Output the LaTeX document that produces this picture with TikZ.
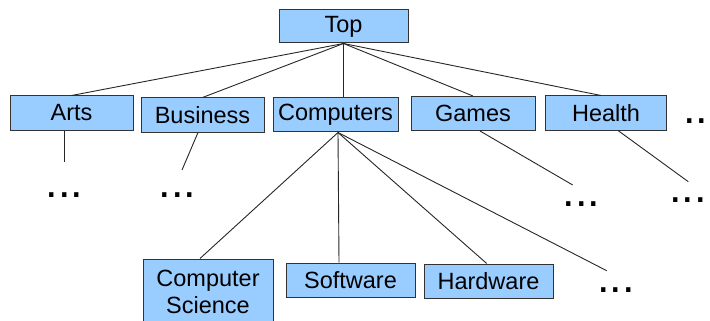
\documentclass[tikz,border=0pt]{standalone}
\usepackage{fontspec}
\setmainfont{Liberation Sans}
\definecolor{boxfill}{HTML}{99CCFF}
\definecolor{boxline}{HTML}{333333}
\begin{document}
\begin{tikzpicture}[x=1pt,y=-1pt,
  catbox/.style={draw=boxline,fill=boxfill,line width=1pt,inner sep=0pt,
    font=\fontsize{23.5}{27}\selectfont,align=center},
  dots/.style={inner sep=0pt,anchor=base,font=\fontsize{45}{45}\selectfont},
  edge/.style={draw=black!85,line width=0.9pt}]
\useasboundingbox (0,0) rectangle (710,321);
% boxes
\node[catbox,minimum width=129pt,minimum height=33pt] (top) at (343.5,26.5) {Top};
\node[catbox,minimum width=123pt,minimum height=34pt] (arts) at (71.5,113) {Arts};
\node[catbox,minimum width=123pt,minimum height=34pt] (bus) at (202.5,115) {Business};
\node[catbox,minimum width=125pt,minimum height=33pt] (comp) at (335.5,114.5) {Computers};
\node[catbox,minimum width=124pt,minimum height=34pt] (games) at (473,113.5) {Games};
\node[catbox,minimum width=121pt,minimum height=34pt] (health) at (606,113) {Health};
\node[catbox,minimum width=130pt,minimum height=65pt] (cs) at (208,291.5) {Computer\\Science};
\node[catbox,minimum width=129pt,minimum height=34pt] (soft) at (350.5,280) {Software};
\node[catbox,minimum width=129pt,minimum height=34pt] (hard) at (488.5,281) {Hardware};
% dots
\node[dots] (dright) at (702,124) {...};
\node[dots] (darts) at (64.5,197) {...};
\node[dots] (dbus) at (177.5,197) {...};
\node[dots] (dgames) at (581.5,206) {...};
\node[dots] (dhealth) at (688,202) {...};
\node[dots] (dcomp) at (616,292.7) {...};
% free line ends
\coordinate (earts) at (64,162);
\coordinate (ebus) at (182,170);
\coordinate (egames) at (572.7,185);
\coordinate (ehealth) at (688.3,181.7);
\coordinate (ecomp) at (606.7,270.7);
% top edges
\draw[edge] (top.south) -- (arts.north);
\draw[edge] (top.south) -- (bus.north);
\draw[edge] (top.south) -- (top.south |- comp.north);
\draw[edge] (top.south) -- (games.north);
\draw[edge] (top.south) -- ([xshift=-5pt]health.north);
% second level edges
\draw[edge] ([xshift=-7.5pt]arts.south) -- (earts);
\draw[edge] ([xshift=-4.5pt]bus.south) -- (ebus);
\draw[edge] ([xshift=7pt]games.south) -- (egames);
\draw[edge] ([xshift=12pt]health.south) -- (ehealth);
\coordinate (cfrom) at ([xshift=2.5pt,yshift=-1pt]comp.south);
\draw[edge] (cfrom) -- ([xshift=-8pt]cs.north);
\draw[edge] (cfrom) -- ([xshift=-11.5pt]soft.north);
\draw[edge] (cfrom) -- ([xshift=-1.8pt]hard.north);
\draw[edge] (cfrom) -- (ecomp);
\end{tikzpicture}
\end{document}
